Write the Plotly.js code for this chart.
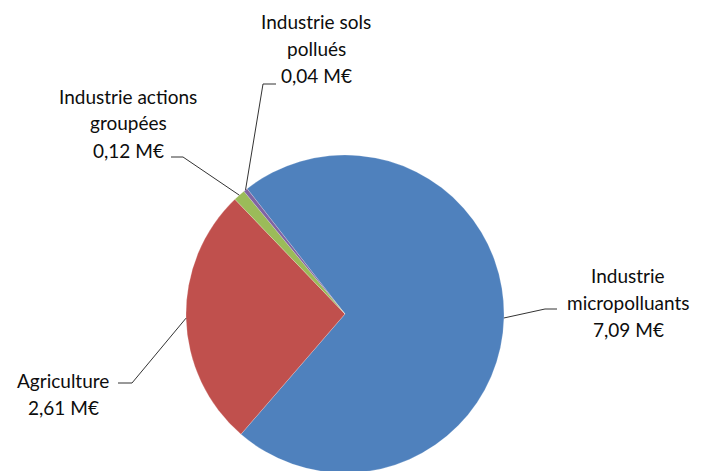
<!DOCTYPE html>
<html>
<head>
<meta charset="utf-8">
<script src="https://cdn.plot.ly/plotly-3.0.1.min.js"></script>
<style>html,body{margin:0;padding:0;overflow:hidden;background:#fff;}</style>
</head>
<body>
<div id="chart" style="width:702px;height:475px;"></div>
<script>
// Data
const categories = ["Industrie micropolluants", "Agriculture", "Industrie actions groupées", "Industrie sols pollués"];
const values = [7.09, 2.61, 0.12, 0.04];
const colors = ["#4F81BD", "#C0504D", "#9BBB59", "#8064A2"];
const labelLines = [
  ["Industrie", "micropolluants", "7,09 M€"],
  ["Agriculture", "2,61 M€"],
  ["Industrie actions", "groupées", "0,12 M€"],
  ["Industrie sols", "pollués", "0,04 M€"]
];

// Layout geometry (pixels)
const W = 702, H = 475;
const CX = 345, CY = 314, R = 159;
const ROT = 322; // degrees clockwise from 12 o'clock
const LINE_H = 27;
const labelPos = [
  {x: 628, y: 275, elbow: [545, 309], tail: [557, 309]},
  {x: 63, y: 380, elbow: [132, 383], tail: [118, 383]},
  {x: 128, y: 96, elbow: [183, 157], tail: [171, 157]},
  {x: 316, y: 21, elbow: [263, 84], tail: [276, 84]}
];

const px = x => x / W;
const py = y => 1 - y / H;

const total = values.reduce((a, b) => a + b, 0);
const annotations = [];
const shapes = [];
let start = ROT;
values.forEach((v, i) => {
  const sweep = v / total * 360;
  const mid = (start + sweep / 2) * Math.PI / 180;
  start += sweep;
  const sx = CX + R * Math.sin(mid), sy = CY - R * Math.cos(mid);
  const p = labelPos[i];
  shapes.push({
    type: "path", xref: "paper", yref: "paper",
    path: `M ${px(sx)} ${py(sy)} L ${px(p.elbow[0])} ${py(p.elbow[1])} L ${px(p.tail[0])} ${py(p.tail[1])}`,
    line: {color: "#333333", width: 1}
  });
  labelLines[i].forEach((t, j) => {
    annotations.push({
      text: t, xref: "paper", yref: "paper",
      x: px(p.x), y: py(p.y + j * LINE_H),
      xanchor: "center", yanchor: "middle", showarrow: false,
      font: {family: "Lato, 'Open Sans', sans-serif", size: 19, color: "#0d0d0d"}
    });
  });
});

const trace = {
  type: "pie",
  labels: categories,
  values: values,
  sort: false,
  direction: "clockwise",
  rotation: ROT,
  marker: {colors: colors, line: {color: "rgba(255,255,255,0.4)", width: 0.5}},
  textinfo: "none",
  hoverinfo: "label+value",
  domain: {x: [(CX - R) / W, (CX + R) / W], y: [(H - CY - R) / H, (H - CY + R) / H]}
};

const layout = {
  width: W, height: H,
  margin: {l: 0, r: 0, t: 0, b: 0},
  showlegend: false,
  paper_bgcolor: "#fff",
  annotations: annotations,
  shapes: shapes
};

Plotly.newPlot("chart", [trace], layout, {displayModeBar: false, staticPlot: true});
</script>
</body>
</html>
